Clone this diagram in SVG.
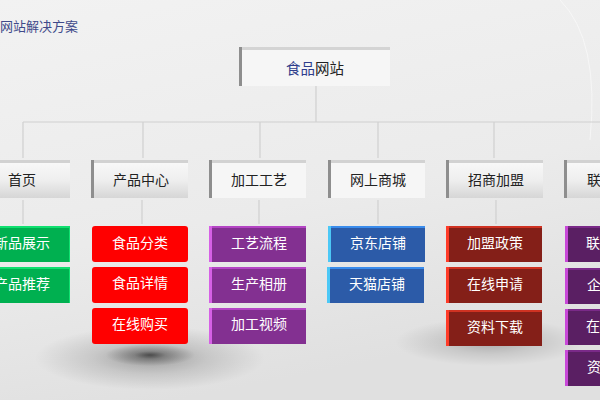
<svg xmlns="http://www.w3.org/2000/svg" width="600" height="400" viewBox="0 0 600 400">
<defs>
<linearGradient id="bg" x1="0" y1="0" x2="0.3" y2="1">
<stop offset="0" stop-color="#f2f2f2"/>
<stop offset="0.6" stop-color="#ebebeb"/>
<stop offset="1" stop-color="#e0e0e0"/>
</linearGradient>
<linearGradient id="l1g" x1="0" y1="0" x2="0" y2="1">
<stop offset="0" stop-color="#f8f8f8"/>
<stop offset="0.5" stop-color="#eeeeee"/>
<stop offset="1" stop-color="#d6d6d6"/>
</linearGradient>
<radialGradient id="sh1" cx="0.5" cy="0.5" r="0.5">
<stop offset="0" stop-color="#000" stop-opacity="0.55"/>
<stop offset="0.35" stop-color="#000" stop-opacity="0.25"/>
<stop offset="1" stop-color="#000" stop-opacity="0"/>
</radialGradient>
<radialGradient id="sh2" cx="0.5" cy="0.5" r="0.5">
<stop offset="0" stop-color="#000" stop-opacity="0.24"/>
<stop offset="0.5" stop-color="#000" stop-opacity="0.1"/>
<stop offset="1" stop-color="#000" stop-opacity="0"/>
</radialGradient>
<radialGradient id="sh3" cx="0.5" cy="0.5" r="0.5">
<stop offset="0" stop-color="#000" stop-opacity="0.3"/>
<stop offset="0.5" stop-color="#000" stop-opacity="0.12"/>
<stop offset="1" stop-color="#000" stop-opacity="0"/>
</radialGradient>
</defs>
<style>
text{font-family:"Noto Sans CJK SC","Noto Sans",sans-serif;font-size:14px;dominant-baseline:central;text-anchor:middle}
.t1{fill:#222}
.t2{fill:#ffffff}
.conn{stroke:#d0d0d0;stroke-width:1.2;fill:none}
.l1top{fill:#d2d2d2}
.l1left{fill:#8e8e8e}
.l1face{fill:url(#l1g)}
.l1flat{fill:#f6f6f6}
.green .top{fill:#10e070}.green .left{fill:#00c060}.green .face{fill:#00b050}
.red .top{fill:#ff3030}.red .left{fill:#ff2020}.red .face{fill:#ff0000}
.purple .top{fill:#b445c4}.purple .left{fill:#d660e6}.purple .face{fill:#833091}
.blue .top{fill:#3a8cec}.blue .left{fill:#4cc8f6}.blue .face{fill:#2c5ba8}
.dred .top{fill:#cf3222}.dred .left{fill:#ff3b28}.dred .face{fill:#841f18}
.dpur .top{fill:#7a2a88}.dpur .left{fill:#c848d8}.dpur .face{fill:#5a1f63}
</style>
<rect x="0" y="0" width="600" height="400" fill="url(#bg)"/>
<path d="M560 0 Q600 40 590 140" stroke="#ffffff" stroke-opacity="0.5" fill="none"/>
<text x="0" y="25" style="text-anchor:start;font-size:13px;fill:#3f4a8a">网站解决方案</text>

<!-- shadows -->
<ellipse cx="150" cy="358" rx="115" ry="32" fill="url(#sh3)"/>
<ellipse cx="150" cy="355" rx="45" ry="11" fill="url(#sh1)"/>
<ellipse cx="490" cy="342" rx="95" ry="24" fill="url(#sh2)"/>

<g id="connectors">
<path class="conn" d="M316 86 V122 M23 122 H600 M23 122 V158 M143 122 V158 M260 122 V158 M378 122 V158 M494 122 V158"/>
<path class="conn" d="M23 200 V224 M142 200 V224 M259 200 V224 M378 200 V224 M496 200 V224"/>
</g>

<g id="root">
<rect x="239" y="47" width="151" height="39" fill="#d4d4d4"/>
<rect x="239" y="47" width="3" height="39" fill="#8e8e8e"/>
<rect x="242" y="50" width="148" height="36" fill="#f6f6f6"/>
<text x="315" y="67" style="font-size:14.5px"><tspan fill="#2e3d8c">食品</tspan><tspan fill="#222">网站</tspan></text>
</g>

<g id="l1-home"><rect class="l1top" x="-27" y="160" width="97" height="38"/><rect class="l1left" x="-27" y="160" width="3" height="38"/><rect class="l1face" x="-24" y="163" width="94" height="35"/><text class="t1" x="22" y="179">首页</text></g>
<g id="l1-product"><rect class="l1top" x="91" y="160" width="97" height="38"/><rect class="l1left" x="91" y="160" width="3" height="38"/><rect class="l1face" x="94" y="163" width="94" height="35"/><text class="t1" x="141" y="179">产品中心</text></g>
<g id="l1-process"><rect class="l1top" x="209" y="160" width="97" height="38"/><rect class="l1left" x="209" y="160" width="3" height="38"/><rect class="l1flat" x="212" y="163" width="94" height="35"/><text class="t1" x="259" y="179">加工工艺</text></g>
<g id="l1-mall"><rect class="l1top" x="328" y="160" width="97" height="38"/><rect class="l1left" x="328" y="160" width="3" height="38"/><rect class="l1flat" x="331" y="163" width="94" height="35"/><text class="t1" x="378" y="179">网上商城</text></g>
<g id="l1-join"><rect class="l1top" x="446" y="160" width="97" height="38"/><rect class="l1left" x="446" y="160" width="3" height="38"/><rect class="l1face" x="449" y="163" width="94" height="35"/><text class="t1" x="496" y="179">招商加盟</text></g>
<g id="l1-contact"><rect class="l1top" x="564" y="160" width="97" height="38"/><rect class="l1left" x="564" y="160" width="3" height="38"/><rect class="l1face" x="567" y="163" width="94" height="35"/><text class="t1" x="587" y="179" style="text-anchor:start">联</text></g>

<!-- column 1 -->
<g id="g1" class="green"><rect class="top" x="-27" y="226" width="97" height="36"/><rect class="face" x="-27" y="228" width="96" height="34"/><text class="t2" x="22" y="242">新品展示</text></g>
<g id="g2" class="green"><rect class="top" x="-27" y="267" width="97" height="36"/><rect class="face" x="-27" y="269" width="96" height="34"/><text class="t2" x="22" y="283">产品推荐</text></g>
<!-- column 2 -->
<g id="r1" class="red"><rect class="face" x="92" y="226" width="96" height="36" rx="3"/><text class="t2" x="140" y="242">食品分类</text></g>
<g id="r2" class="red"><rect class="face" x="92" y="267" width="96" height="36" rx="3"/><text class="t2" x="140" y="282">食品详情</text></g>
<g id="r3" class="red"><rect class="face" x="92" y="308" width="96" height="36" rx="3"/><text class="t2" x="140" y="323">在线购买</text></g>
<!-- column 3 -->
<g id="p1" class="purple"><rect class="top" x="209" y="226" width="97" height="36"/><rect class="left" x="209" y="226" width="3" height="36"/><rect class="face" x="212" y="228" width="94" height="34"/><text class="t2" x="259" y="242">工艺流程</text></g>
<g id="p2" class="purple"><rect class="top" x="209" y="267" width="97" height="36"/><rect class="left" x="209" y="267" width="3" height="36"/><rect class="face" x="212" y="269" width="94" height="34"/><text class="t2" x="259" y="283">生产相册</text></g>
<g id="p3" class="purple"><rect class="top" x="209" y="308" width="97" height="36"/><rect class="left" x="209" y="308" width="3" height="36"/><rect class="face" x="212" y="310" width="94" height="34"/><text class="t2" x="259" y="323">加工视频</text></g>
<!-- column 4 -->
<g id="b1" class="blue"><rect class="top" x="328" y="226" width="97" height="36"/><rect class="left" x="328" y="226" width="3" height="36"/><rect class="face" x="331" y="228" width="94" height="34"/><text class="t2" x="378" y="242">京东店铺</text></g>
<g id="b2" class="blue"><rect class="top" x="327" y="267" width="97" height="36"/><rect class="left" x="327" y="267" width="3" height="36"/><rect class="face" x="330" y="269" width="94" height="34"/><text class="t2" x="377" y="283">天猫店铺</text></g>
<!-- column 5 -->
<g id="d1" class="dred"><rect class="top" x="446" y="226" width="96" height="36"/><rect class="left" x="446" y="226" width="3" height="36"/><rect class="face" x="449" y="228" width="93" height="34"/><text class="t2" x="495" y="242">加盟政策</text></g>
<g id="d2" class="dred"><rect class="top" x="446" y="267" width="96" height="36"/><rect class="left" x="446" y="267" width="3" height="36"/><rect class="face" x="449" y="269" width="93" height="34"/><text class="t2" x="495" y="283">在线申请</text></g>
<g id="d3" class="dred"><rect class="top" x="446" y="310" width="96" height="36"/><rect class="left" x="446" y="310" width="3" height="36"/><rect class="face" x="449" y="312" width="93" height="34"/><text class="t2" x="495" y="326">资料下载</text></g>
<!-- column 6 -->
<g id="c1" class="dpur"><rect class="top" x="565" y="226" width="97" height="36"/><rect class="left" x="565" y="226" width="3" height="36"/><rect class="face" x="568" y="228" width="94" height="34"/><text class="t2" x="586" y="242" style="text-anchor:start">联</text></g>
<g id="c2" class="dpur"><rect class="top" x="565" y="268" width="97" height="36"/><rect class="left" x="565" y="268" width="3" height="36"/><rect class="face" x="568" y="270" width="94" height="34"/><text class="t2" x="587" y="284" style="text-anchor:start">企</text></g>
<g id="c3" class="dpur"><rect class="top" x="565" y="309" width="97" height="36"/><rect class="left" x="565" y="309" width="3" height="36"/><rect class="face" x="568" y="311" width="94" height="34"/><text class="t2" x="586" y="325" style="text-anchor:start">在</text></g>
<g id="c4" class="dpur"><rect class="top" x="565" y="350" width="97" height="36"/><rect class="left" x="565" y="350" width="3" height="36"/><rect class="face" x="568" y="352" width="94" height="34"/><text class="t2" x="587" y="366" style="text-anchor:start">资</text></g>
</svg>
